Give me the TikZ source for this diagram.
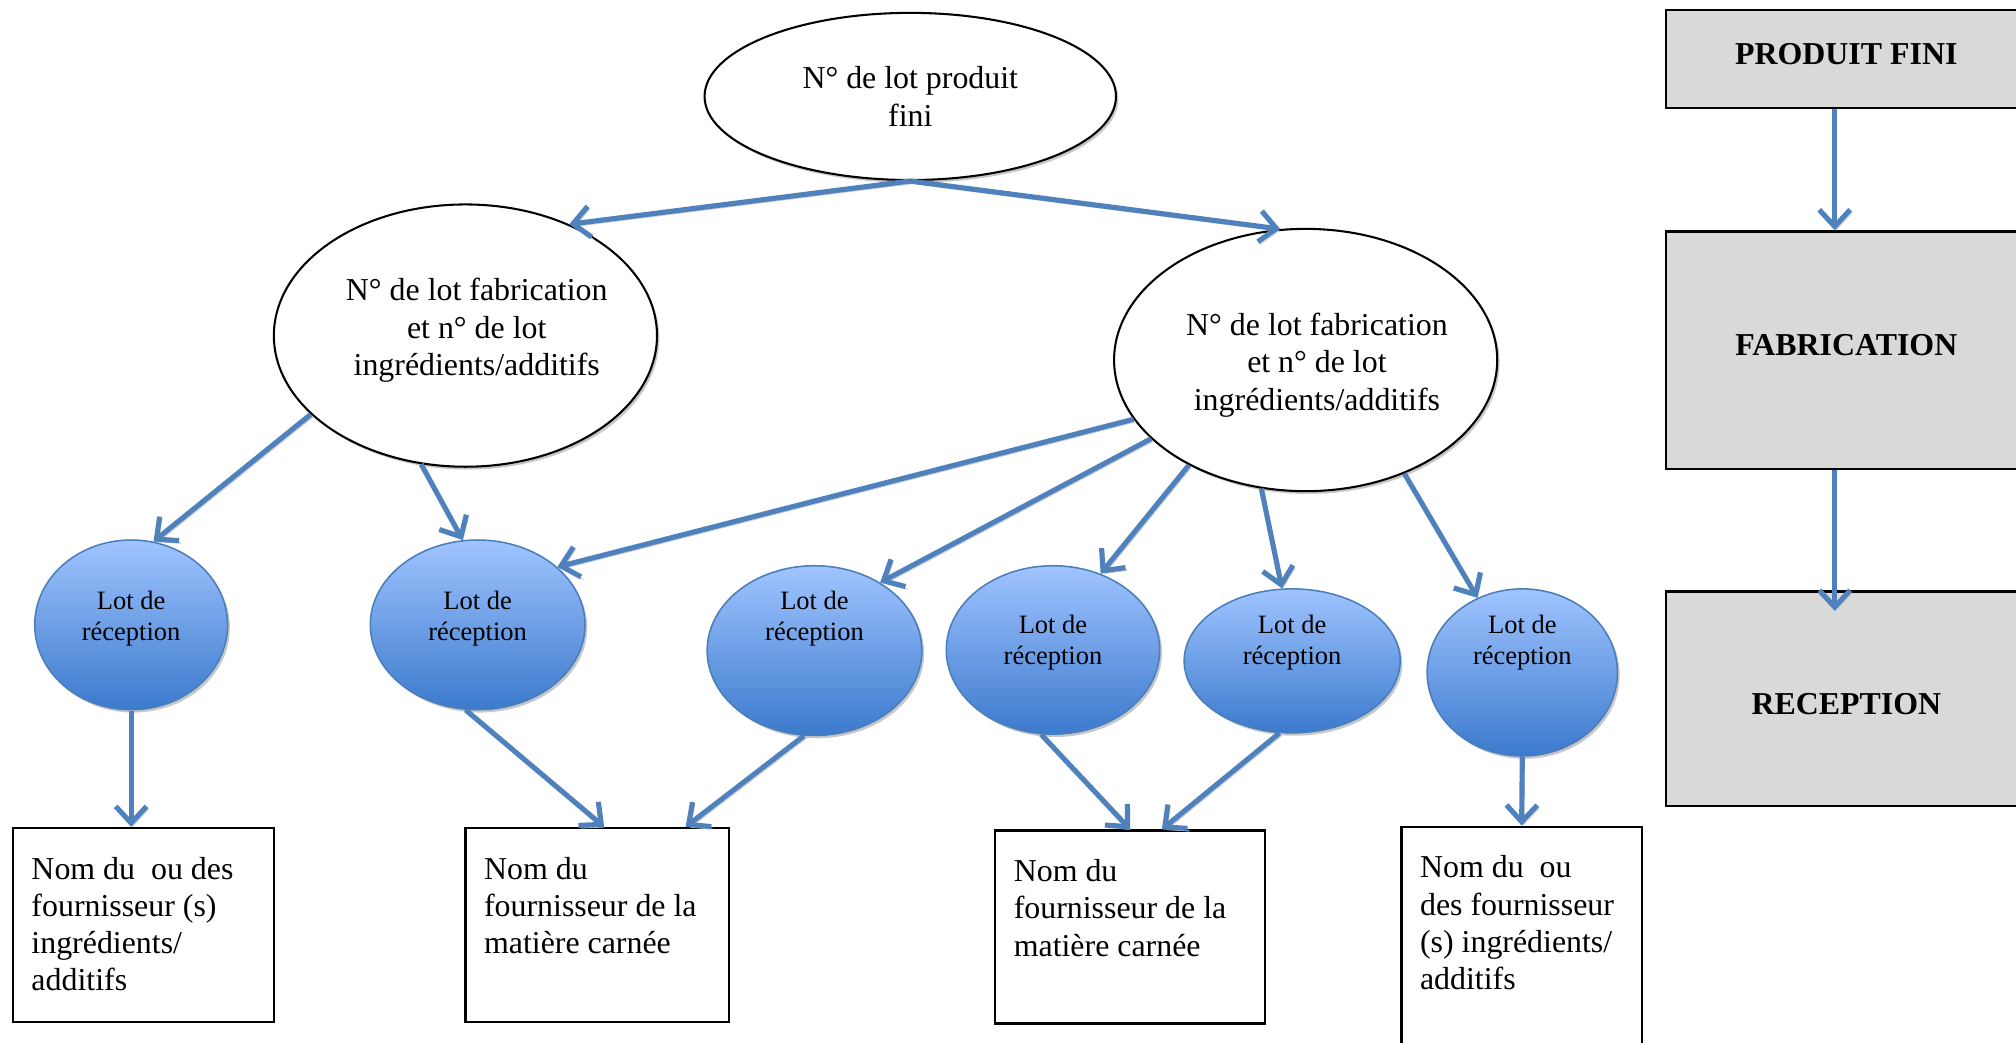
\documentclass[tikz,border=0pt]{standalone}
\usepackage{fontspec}
\setmainfont{Liberation Serif}
\usetikzlibrary{shapes.geometric,arrows.meta,shadows}

\definecolor{arrowblue}{RGB}{79,129,189}
\definecolor{lotlight}{RGB}{160,196,255}
\definecolor{lotdark}{RGB}{60,122,205}
\definecolor{lotrim}{RGB}{74,126,187}
\definecolor{stagegray}{RGB}{217,217,217}

\begin{document}
\begin{tikzpicture}[x=0.5pt,y=-0.5pt]
    \tikzstyle{lotnum}=[ellipse,draw=black,line width=0.8pt,fill=white,inner sep=0pt,align=center,font=\fontsize{12.4}{14.5}\selectfont,drop shadow={shadow xshift=0.9pt,shadow yshift=-1.1pt,fill=black!22,opacity=1}]
    \tikzstyle{lotnumtext}=[align=center,inner sep=0pt,font=\fontsize{12.4}{14.5}\selectfont]
    \tikzstyle{recep}=[ellipse,draw=lotrim,line width=0.6pt,top color=lotlight,bottom color=lotdark,inner sep=0pt,drop shadow={shadow xshift=0.9pt,shadow yshift=-1.1pt,fill=black!22,opacity=1}]
    \tikzstyle{lottext}=[align=center,inner sep=0pt,font=\fontsize{10.3}{12}\selectfont]
    \tikzstyle{supplier}=[rectangle,draw=black,line width=0.9pt,fill=white,inner sep=0pt]
    \tikzstyle{suppliertext}=[anchor=north west,align=left,inner sep=0pt,xshift=7.5pt,yshift=-11.5pt,font=\fontsize{12.4}{14.5}\selectfont]
    \tikzstyle{stage}=[rectangle,draw=black,line width=0.9pt,fill=stagegray,minimum width=140pt,font=\bfseries\fontsize{12.4}{14.5}\selectfont]
    \tikzstyle{flow}=[draw=arrowblue,line width=2pt,-{Straight Barb[length=6.5pt,width=12pt]},preaction={draw=black!20,transform canvas={shift={(0.8pt,-1pt)}}}]

    \useasboundingbox (0,0) rectangle (1568,810.5);

    % lot numbers
    \node[lotnum,minimum width=160pt,minimum height=65pt] (T) at (708,75) {N° de lot produit\\fini};
    \node[lotnum,minimum width=149pt,minimum height=102pt,
          label={[lotnumtext,xshift=4.4pt,yshift=2pt]center:N° de lot fabrication\\et n° de lot\\ingrédients/additifs}] (L) at (362,261) {};
    \node[lotnum,minimum width=149pt,minimum height=102pt,
          label={[lotnumtext,xshift=4.4pt,yshift=-2pt]center:N° de lot fabrication\\et n° de lot\\ingrédients/additifs}] (R) at (1015.5,280) {};

    % reception lots
    \foreach \name/\x/\y/\w/\h/\up in {1/102/486/75/66/2.5, 2/371.5/486/83.5/66/2.5, 3/633.5/506/83.5/66/12.5,
                                       4/819/505.5/83/65.5/2.75, 5/1005/514/84/56/7, 6/1184/523/74/65/11.5}
        \node[recep,minimum width=\w pt,minimum height=\h pt,label={[lottext,yshift=\up pt]center:Lot de\\réception}] (C\name) at (\x,\y) {};

    % suppliers
    \node[supplier,minimum width=101.5pt,minimum height=75.5pt,label={[suppliertext]north west:Nom du\ \ ou des\\fournisseur (s)\\ingrédients/\\additifs}] (B1) at (111.5,719.5) {};
    \node[supplier,minimum width=102.5pt,minimum height=75.5pt,label={[suppliertext]north west:Nom du\\fournisseur de la\\matière carnée}] (B2) at (464.5,719.5) {};
    \node[supplier,minimum width=105pt,minimum height=75pt,label={[suppliertext]north west:Nom du\\fournisseur de la\\matière carnée}] (B3) at (879,721) {};
    \node[supplier,minimum width=93.5pt,minimum height=86pt,label={[suppliertext]north west:Nom du\ \ ou\\des fournisseur\\(s) ingrédients/\\additifs}] (B4) at (1183.5,729) {};

    % stages
    \node[stage,minimum height=38pt,text depth=4pt] (P1) at (1436,46) {PRODUIT FINI};
    \node[stage,minimum height=92.5pt,text depth=4.5pt] (P2) at (1436,272.5) {FABRICATION};
    \node[stage,minimum height=83.5pt,text height=12.7pt] (P3) at (1436,543.5) {RECEPTION};

    \draw[flow] (T.south) -- (L.47);
    \draw[flow] (T.south) -- (R.101);
    \draw[flow] (L.207) -- (C1.75);
    \draw[flow] (L.251) -- (C2.100);
    \foreach \a/\dest/\b in {199/2/36, 207/3/46, 222/4/58, 251/5/98, 311/6/121}
        \draw[flow] (R.\a) -- (C\dest.\b);

    \draw[flow] (C1.south) -- (C1.south |- B1.north);
    \draw[flow] (C2.262) -- (B2.86);
    \draw[flow] (C3.263) -- (B2.48);
    \draw[flow] (C4.262) -- (B3.north);
    \draw[flow] (C5.260) -- (B3.72);
    \draw[flow] (C6.south) -- (B4.north);

    \draw[flow] ([xshift=-4.5pt]P1.south) -- ([xshift=-4.5pt]P2.north);
    \draw[flow] ([xshift=-4.5pt]P2.south) -- ([xshift=-4.5pt,yshift=-8pt]P3.north);
\end{tikzpicture}
\end{document}
